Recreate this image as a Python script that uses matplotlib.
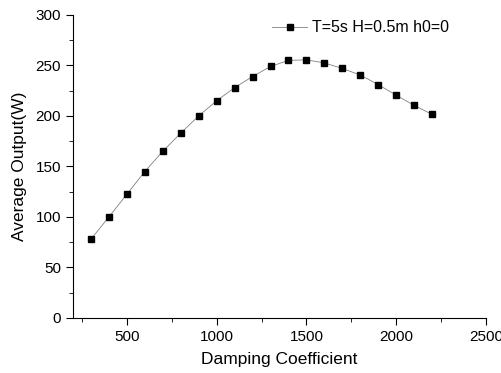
import matplotlib
matplotlib.use("Agg")
import matplotlib.pyplot as plt
from matplotlib.ticker import MultipleLocator

plt.rcParams['font.family'] = ['Liberation Sans', 'DejaVu Sans']

damping = [300, 400, 500, 600, 700, 800, 900, 1000, 1100, 1200,
           1300, 1400, 1500, 1600, 1700, 1800, 1900, 2000, 2100, 2200]
output = [78, 100, 122.5, 145, 165, 183, 200, 215, 228, 239,
          249, 255, 255.5, 252.5, 247, 240.5, 231, 220.5, 210.5, 201.5]
label = "T=5s H=0.5m h0=0"

fig = plt.figure(figsize=(5.01, 3.73), dpi=100)
ax = fig.add_axes([0.1457, 0.1475, 0.8243, 0.8125])

ax.plot(damping, output, color='#808080', lw=0.6, marker='s', ms=5,
        mfc='black', mec='black', label=label)

ax.set_xlim(200, 2500)
ax.set_ylim(0, 300)
ax.xaxis.set_major_locator(MultipleLocator(500))
ax.xaxis.set_minor_locator(MultipleLocator(250))
ax.yaxis.set_major_locator(MultipleLocator(50))
ax.yaxis.set_minor_locator(MultipleLocator(25))
ax.tick_params(which='both', direction='out', labelsize=11)
ax.tick_params(which='major', length=5)
ax.tick_params(which='minor', length=3)

ax.spines['top'].set_visible(False)
ax.spines['right'].set_visible(False)

ax.set_xlabel("Damping Coefficient", fontsize=12.5, labelpad=6)
ax.set_ylabel("Average Output(W)", fontsize=12.5, labelpad=6)

ax.legend(loc='upper right', frameon=False, fontsize=11.5,
          bbox_to_anchor=(0.945, 1.03), handlelength=2.2,
          handletextpad=0.3)

fig.savefig("out.png", dpi=100)
